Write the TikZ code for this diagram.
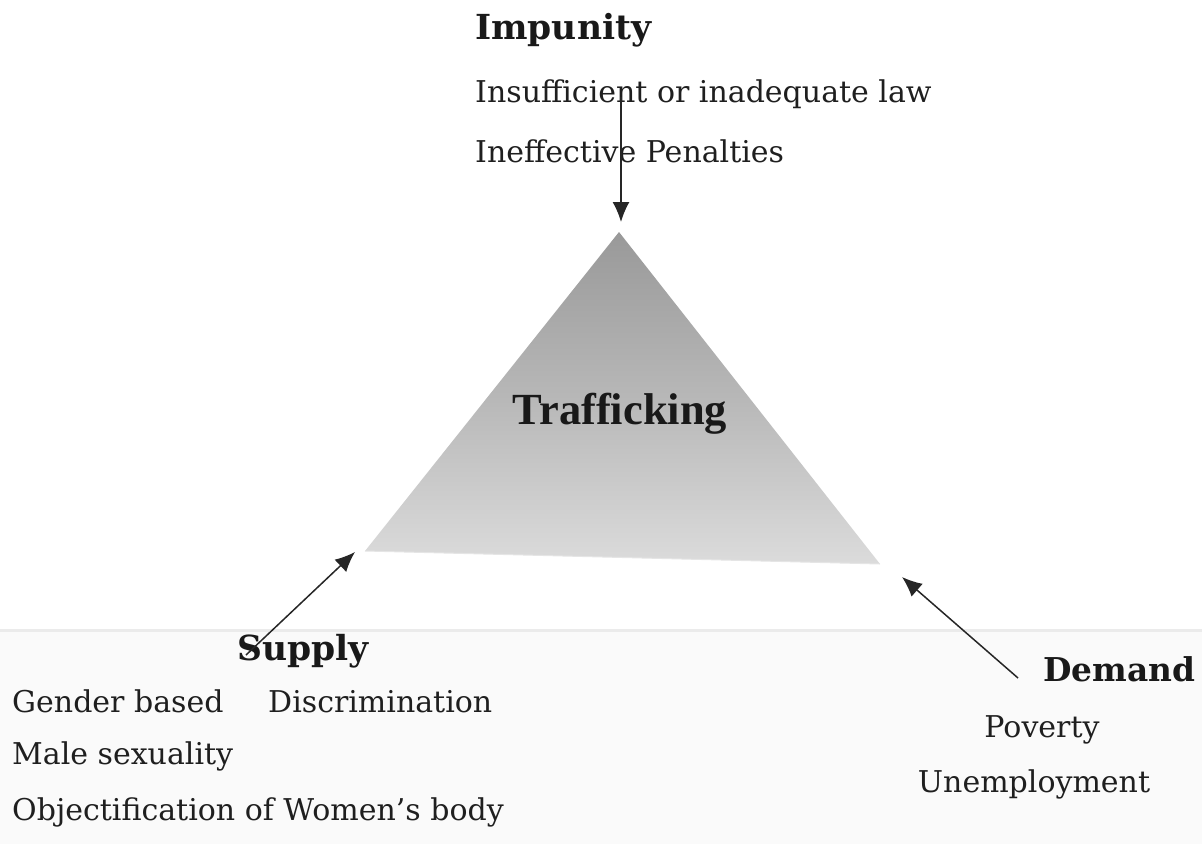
\documentclass[tikz,border=0pt]{standalone}
\usepackage{fontspec}
\setmainfont{DejaVu Serif}
\newfontfamily\trafont{Liberation Serif}
\usetikzlibrary{arrows.meta}
\begin{document}
\begin{tikzpicture}[x=1pt,y=-1pt,
  txt/.style={anchor=base west, inner sep=0pt, font=\fontsize{30}{36}\selectfont, text=black!88},
  ctxt/.style={anchor=base, inner sep=0pt, font=\fontsize{30}{36}\selectfont, text=black!88},
  head/.style={anchor=base west, inner sep=0pt, font=\fontsize{34.5}{40}\selectfont\bfseries, text=black!90},
  arr/.style={-{Latex[length=20pt,width=17pt]}, line width=1.5pt, draw=black!85}]
\useasboundingbox (0,0) rectangle (1202,844);
% faint lower page tint
\fill[black!2] (0,630) rectangle (1202,844);
\draw[black!8, line width=3pt] (0,630) -- (1202,630);
% triangle
\coordinate (apex) at (619,232);
\coordinate (bl) at (365,551);
\coordinate (br) at (880,564);
\shade[top color=black!40, bottom color=black!14, middle color=black!28]
  (apex) -- (br) -- (bl) -- cycle;
\draw[black!10, line width=1pt] (bl) -- (br);
\node[inner sep=0pt, anchor=base, font=\fontsize{44.5}{50}\selectfont\trafont\bfseries, text=black!90] (traf) at (620,424) {Trafficking};
% impunity
\node[head] (imp) at (475,39) {Impunity};
\node[txt] (law) at (475,102) {Insufficient or inadequate law};
\node[txt] (pen) at (475,162) {Ineffective Penalties};
% supply
\node[head] (sup) at (237,660) {Supply};
\node[txt] (gen) at (12,712) {Gender based};
\node[txt] (dis) at (268,712) {Discrimination};
\node[txt] (mal) at (12,764) {Male sexuality};
\node[txt] (obj) at (12,820) {Objectification of Women’s body};
% demand
\node[head, font=\fontsize{32.8}{38}\selectfont\bfseries] (dem) at (1043,681) {Demand};
\node[ctxt] (pov) at (1042,737) {Poverty};
\node[ctxt] (une) at (1034,792) {Unemployment};
% arrows
\coordinate (impt) at (621,97);
\coordinate (imph) at (621,222);
\coordinate (supt) at (246,655);
\coordinate (suph) at (355,552);
\coordinate (demt) at (1018,678);
\coordinate (demh) at (902,577);
\draw[arr] (impt) -- (imph);
\draw[arr] (supt) -- (suph);
\draw[arr] (demt) -- (demh);
\end{tikzpicture}
\end{document}
